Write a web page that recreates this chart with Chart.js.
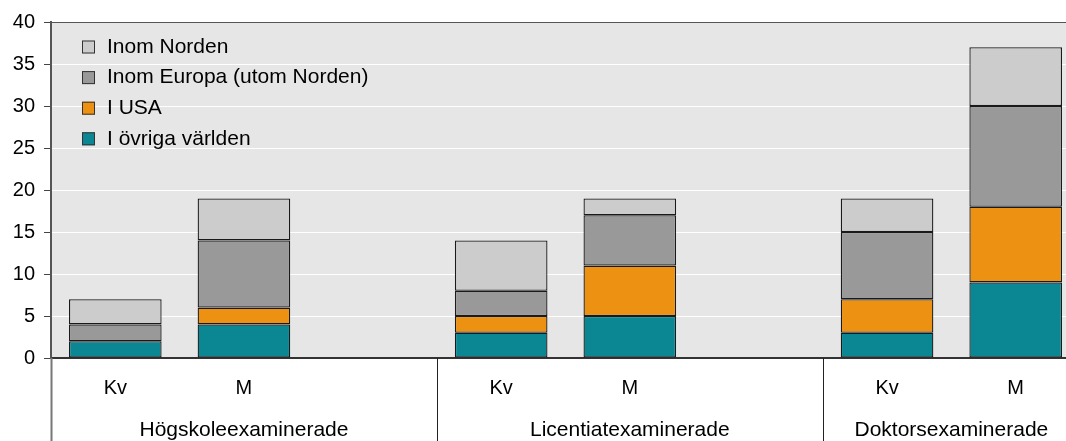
<!DOCTYPE html>
<html>
<head>
<meta charset="utf-8">
<script src="https://cdn.jsdelivr.net/npm/chart.js@4/dist/chart.umd.min.js"></script>
<style>
  html, body { margin: 0; padding: 0; background: #fff; overflow: hidden; }
  #wrap { width: 1080px; height: 441px; }
</style>
</head>
<body>
<div id="wrap"><canvas id="chart" width="1080" height="441"></canvas></div>
<script>
// categories on the x axis (empty slot between groups)
const categories = ["Kv", "M", "", "Kv", "M", "", "Kv", "M"];

// group names and which categories they cover
const groupNames = ["Högskoleexaminerade", "Licentiatexaminerade", "Doktorsexaminerade"];
const groupFirst = [0, 3, 6];
const groupLast  = [2, 5, 7];

// series values, bottom of the stack first
const ovrigaVarlden = [2, 4, null, 3, 5, null, 3, 9];
const iUSA          = [0, 2, null, 2, 6, null, 4, 9];
const inomEuropa    = [2, 8, null, 3, 6, null, 8, 12];
const inomNorden    = [3, 5, null, 6, 2, null, 4, 7];

const yTicks = [0, 5, 10, 15, 20, 25, 30, 35, 40];

const FONT = "'Liberation Sans', Arial, sans-serif";

// grey plot background
const plotBackground = {
    id: "plotBackground",
    beforeDraw (chart) {
        const a = chart.chartArea, ctx = chart.ctx;
        ctx.save();
        ctx.fillStyle = "#e6e6e6";
        ctx.fillRect(a.left, a.top, a.right - a.left, a.bottom - a.top);
        ctx.restore(); } };

// legend inside the plot, top-left, top series first
const insideLegend = {
    id: "insideLegend",
    afterDraw (chart) {
        const a = chart.chartArea, ctx = chart.ctx;
        const sets = chart.data.datasets.slice().reverse();
        ctx.save();
        ctx.font = "21px " + FONT;
        ctx.textBaseline = "middle";
        sets.forEach((ds, i) => {
            const y = a.top + 25 + i * 30.6;
            const x = a.left + 31;
            ctx.fillStyle = ds.backgroundColor;
            ctx.fillRect(x, y - 6.5, 13, 13);
            ctx.strokeStyle = "#333";
            ctx.lineWidth = 1;
            ctx.strokeRect(x + 0.5, y - 6, 12, 12);
            ctx.fillStyle = "#000";
            ctx.fillText(ds.label, x + 25, y); });
        ctx.restore(); } };

// group labels and separator lines below the x axis
const groupAxis = {
    id: "groupAxis",
    afterDraw (chart) {
        const x = chart.scales.x, a = chart.chartArea, ctx = chart.ctx;
        const half = (x.getPixelForValue(1) - x.getPixelForValue(0)) / 2;
        ctx.save();
        ctx.font = "21px " + FONT;
        ctx.textAlign = "center";
        ctx.textBaseline = "middle";
        groupNames.forEach((name, i) => {
            const left = x.getPixelForValue(groupFirst[i]) - half;
            const right = x.getPixelForValue(groupLast[i]) + half;
            ctx.strokeStyle = i === 0 ? "#777" : "#222";
            ctx.lineWidth = i === 0 ? 2 : 1;
            ctx.beginPath();
            ctx.moveTo(Math.round(left) + 0.5, a.bottom);
            ctx.lineTo(Math.round(left) + 0.5, chart.height);
            ctx.stroke();
            ctx.fillStyle = "#000";
            ctx.fillText(name, (left + right) / 2, a.bottom + 72); });
        ctx.restore(); } };

function series (label, data, color) {
    return {
        label: label,
        data: data,
        backgroundColor: color,
        borderColor: "#1a1a1a",
        borderWidth: 1.3,
        borderSkipped: false,
        barPercentage: 0.72,
        categoryPercentage: 1.0 }; }

new Chart("chart", {
    type: "bar",
    data: {
        labels: categories,
        datasets: [
            series("I övriga världen", ovrigaVarlden, "#0a8792"),
            series("I USA", iUSA, "#ec9112"),
            series("Inom Europa (utom Norden)", inomEuropa, "#999999"),
            series("Inom Norden", inomNorden, "#cccccc")
        ]
    },
    options: {
        responsive: false,
        animation: false,
        layout: { padding: { top: 22, right: 0, left: 0, bottom: 0 } },
        plugins: {
            legend: { display: false },
            tooltip: { enabled: false },
            title: { display: false }
        },
        scales: {
            x: {
                stacked: true,
                grid: { display: false },
                border: { display: true, color: "#333", width: 2 },
                ticks: { color: "#000", font: { size: 20, family: FONT }, padding: 10, maxRotation: 0, autoSkip: false },
                afterFit (scale) { scale.height = 83; }
            },
            y: {
                stacked: true,
                min: 0,
                max: 40,
                afterBuildTicks (scale) { scale.ticks = yTicks.map(v => ({ value: v })); },
                grid: {
                    color: (c) => (c.tick && (c.tick.value === 40) ? "#555" : "#ffffff"),
                    lineWidth: 1,
                    tickColor: "#444",
                    tickLength: 7,
                    drawTicks: true
                },
                border: { display: true, color: "#555", width: 2 },
                ticks: { color: "#000", font: { size: 20, family: FONT }, padding: 9 },
                afterFit (scale) { scale.width = 51; }
            }
        }
    },
    plugins: [plotBackground, insideLegend, groupAxis]
});
</script>
</body>
</html>
